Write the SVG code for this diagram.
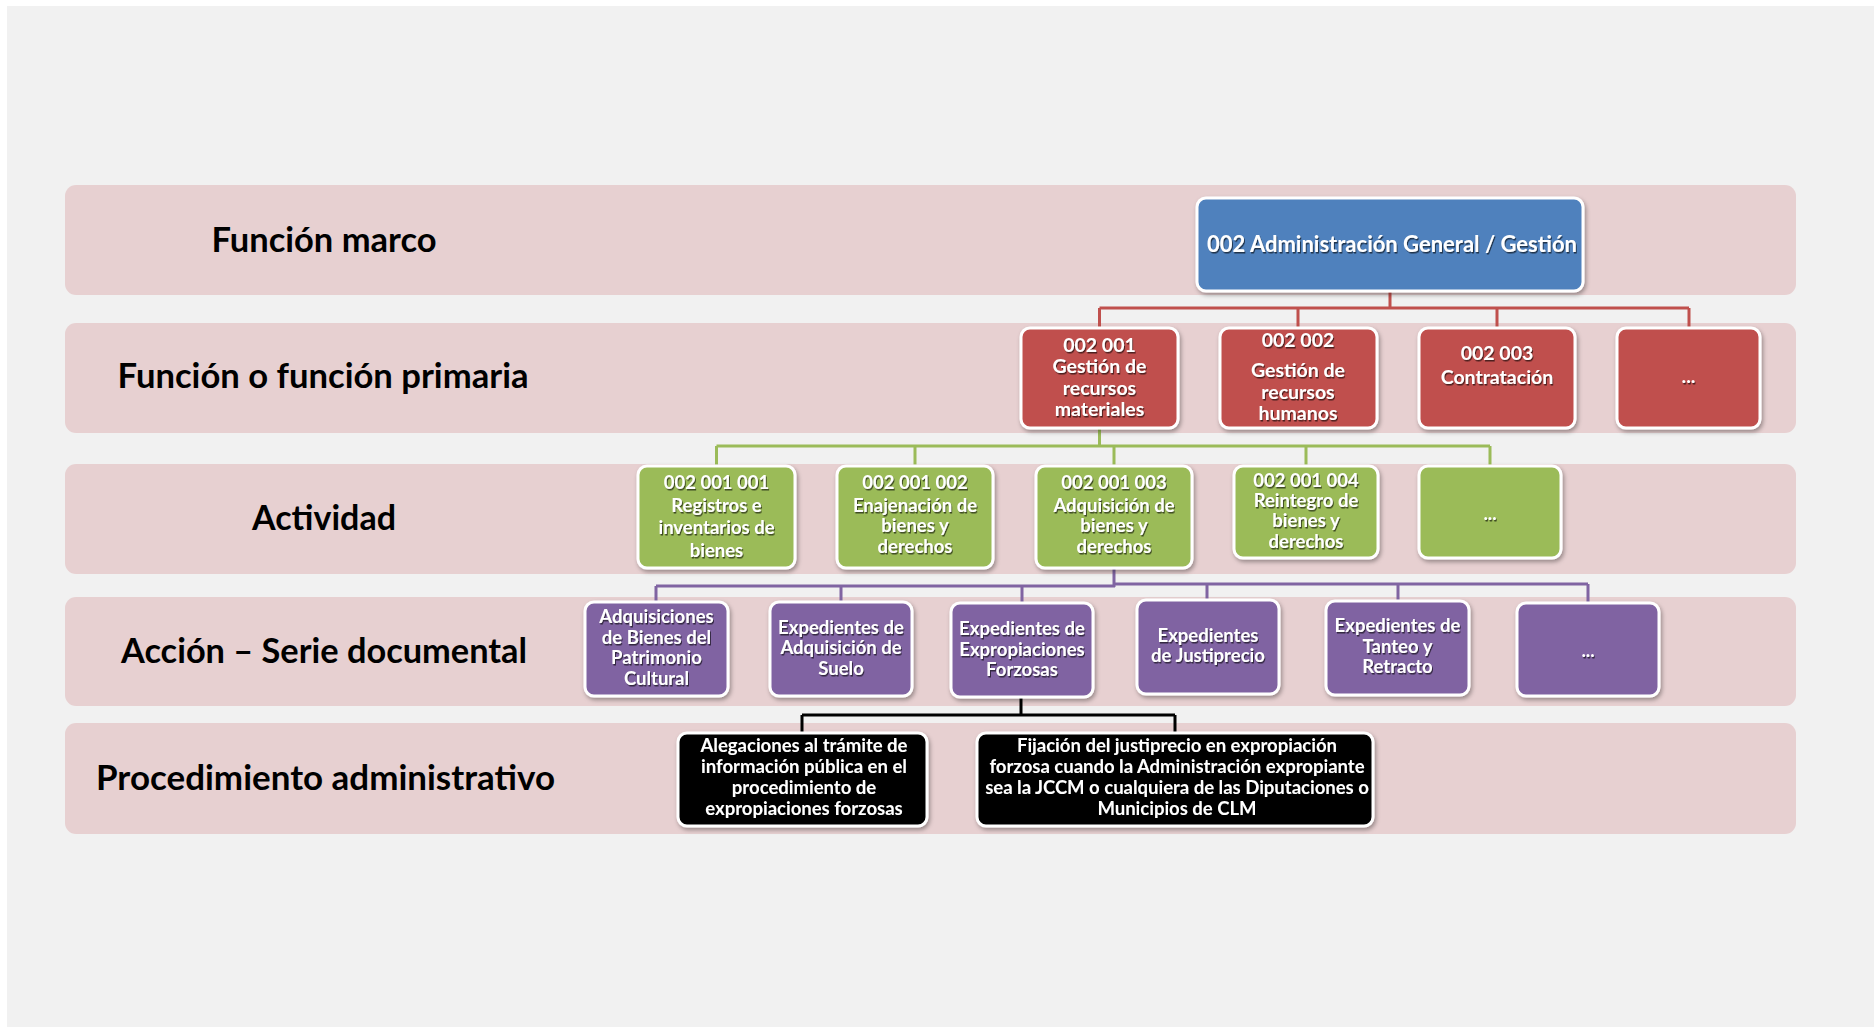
<svg xmlns="http://www.w3.org/2000/svg" width="1874" height="1027" viewBox="0 0 1874 1027">
<defs>
<filter id="boxShadow" x="-10%" y="-10%" width="130%" height="130%">
<feDropShadow dx="1.5" dy="2.5" stdDeviation="2" flood-color="#000" flood-opacity="0.35"/>
</filter>
<filter id="txtShadow" x="-5%" y="-20%" width="110%" height="160%">
<feDropShadow dx="1" dy="1.5" stdDeviation="0.7" flood-color="#000" flood-opacity="0.6"/>
</filter>
<style>
.band{fill:#e7d0d1;}
.lbl{font-family:Lato,"Open Sans",sans-serif;font-weight:bold;font-size:33.5px;fill:#000;text-anchor:middle;}
.node rect{stroke:#fff;stroke-width:3;filter:url(#boxShadow);}
.node text{font-family:Lato,"Open Sans",sans-serif;font-weight:bold;font-size:18.5px;fill:#fff;text-anchor:middle;filter:url(#txtShadow);}
.blue rect{fill:#4f81bd;}
.red rect{fill:#c0504d;}
.green rect{fill:#9bbb59;}
.purple rect{fill:#8064a2;}
.black rect{fill:#000;}
.red text{font-size:19.5px;}
.blue text{font-size:22px;}
.conn path{fill:none;stroke-width:3;}
</style>
</defs>
<rect x="0" y="0" width="1874" height="1027" fill="#ffffff"/>
<rect x="7" y="6" width="1867" height="1021" fill="#f1f1f1"/>

<g id="bands">
<rect class="band" x="65" y="185" width="1731" height="110" rx="11"/>
<rect class="band" x="65" y="323" width="1731" height="110" rx="11"/>
<rect class="band" x="65" y="464" width="1731" height="110" rx="11"/>
<rect class="band" x="65" y="597" width="1731" height="109" rx="11"/>
<rect class="band" x="65" y="723" width="1731" height="111" rx="11"/>
</g>

<g id="labels">
<text class="lbl" x="324" y="251.5" textLength="225" lengthAdjust="spacingAndGlyphs">Función marco</text>
<text class="lbl" x="323" y="388" textLength="411" lengthAdjust="spacingAndGlyphs">Función o función primaria</text>
<text class="lbl" x="324" y="530" textLength="144" lengthAdjust="spacingAndGlyphs">Actividad</text>
<text class="lbl" x="324" y="662.5" textLength="406" lengthAdjust="spacingAndGlyphs">Acción – Serie documental</text>
<text class="lbl" x="325.5" y="790" textLength="459" lengthAdjust="spacingAndGlyphs">Procedimiento administrativo</text>
</g>

<g id="connectors" class="conn">
<path stroke="#c0504d" d="M1390 291V308M1099.5 308H1689M1099.5 308V328M1298 308V328M1497 308V328M1689 308V328"/>
<path stroke="#9bbb59" d="M1099.5 428V446M716.5 446H1490M716.5 446V466M915 446V466M1114 446V466M1306 446V466M1490 446V466"/>
<path stroke="#8064a2" d="M1114 568V587M656 586H1115M1114 584H1588M656 586V602M841 586V602M1022 586V603M1207 584V600M1398 584V601M1588 584V603"/>
<path stroke="#000000" d="M1021 697V715M802 715H1175M802 715V733M1175 715V733"/>
</g>

<g id="n-002" class="node blue">
<rect x="1197" y="198" width="386" height="93" rx="9"/>
<text x="1392" y="252">002 Administración General / Gestión</text>
</g>

<g id="n-002-001" class="node red">
<rect x="1021" y="328" width="157" height="100" rx="9"/>
<text x="1099.5" y="351.5">002 001</text>
<text x="1099.5" y="373">Gestión de</text>
<text x="1099.5" y="394.5">recursos</text>
<text x="1099.5" y="416">materiales</text>
</g>
<g id="n-002-002" class="node red">
<rect x="1220" y="328" width="157" height="100" rx="9"/>
<text x="1298" y="347">002 002</text>
<text x="1298" y="377">Gestión de</text>
<text x="1298" y="398.5">recursos</text>
<text x="1298" y="420">humanos</text>
</g>
<g id="n-002-003" class="node red">
<rect x="1419" y="328" width="156" height="100" rx="9"/>
<text x="1497" y="360">002 003</text>
<text x="1497" y="384">Contratación</text>
</g>
<g id="n-002-more" class="node red">
<rect x="1617" y="328" width="143" height="100" rx="9"/>
<text x="1688.5" y="383">...</text>
</g>

<g id="n-002-001-001" class="node green">
<rect x="638" y="466" width="157" height="102" rx="9"/>
<text x="716.5" y="489">002 001 001</text>
<text x="716.5" y="511.5">Registros e</text>
<text x="716.5" y="534">inventarios de</text>
<text x="716.5" y="557">bienes</text>
</g>
<g id="n-002-001-002" class="node green">
<rect x="837" y="466" width="156" height="102" rx="9"/>
<text x="915" y="489">002 001 002</text>
<text x="915" y="511.5">Enajenación de</text>
<text x="915" y="532">bienes y</text>
<text x="915" y="553">derechos</text>
</g>
<g id="n-002-001-003" class="node green">
<rect x="1036" y="466" width="156" height="102" rx="9"/>
<text x="1114" y="489">002 001 003</text>
<text x="1114" y="511.5">Adquisición de</text>
<text x="1114" y="532">bienes y</text>
<text x="1114" y="553">derechos</text>
</g>
<g id="n-002-001-004" class="node green">
<rect x="1234" y="466" width="144" height="92" rx="9"/>
<text x="1306" y="486.5">002 001 004</text>
<text x="1306" y="507">Reintegro de</text>
<text x="1306" y="527">bienes y</text>
<text x="1306" y="547.5">derechos</text>
</g>
<g id="n-002-001-more" class="node green">
<rect x="1419" y="466" width="142" height="92" rx="9"/>
<text x="1490" y="520">...</text>
</g>

<g id="n-s1" class="node purple">
<rect x="585" y="602" width="143" height="94" rx="9"/>
<text x="656.5" y="623">Adquisiciones</text>
<text x="656.5" y="643.5">de Bienes del</text>
<text x="656.5" y="664">Patrimonio</text>
<text x="656.5" y="685">Cultural</text>
</g>
<g id="n-s2" class="node purple">
<rect x="770" y="602" width="142" height="94" rx="9"/>
<text x="841" y="633.5">Expedientes de</text>
<text x="841" y="654">Adquisición de</text>
<text x="841" y="674.5">Suelo</text>
</g>
<g id="n-s3" class="node purple">
<rect x="951" y="603" width="142" height="94" rx="9"/>
<text x="1022" y="635">Expedientes de</text>
<text x="1022" y="655.5">Expropiaciones</text>
<text x="1022" y="676">Forzosas</text>
</g>
<g id="n-s4" class="node purple">
<rect x="1137" y="600" width="142" height="94" rx="9"/>
<text x="1208" y="642">Expedientes</text>
<text x="1208" y="662">de Justiprecio</text>
</g>
<g id="n-s5" class="node purple">
<rect x="1326" y="601" width="143" height="94" rx="9"/>
<text x="1397.5" y="631.5">Expedientes de</text>
<text x="1397.5" y="652.5">Tanteo y</text>
<text x="1397.5" y="673">Retracto</text>
</g>
<g id="n-s6" class="node purple">
<rect x="1517" y="603" width="142" height="93" rx="9"/>
<text x="1588" y="657">...</text>
</g>

<g id="n-p1" class="node black">
<rect x="678" y="733" width="249" height="93" rx="9"/>
<text x="804" y="752">Alegaciones al trámite de</text>
<text x="804" y="773">información pública en el</text>
<text x="804" y="794">procedimiento de</text>
<text x="804" y="815">expropiaciones forzosas</text>
</g>
<g id="n-p2" class="node black">
<rect x="977" y="733" width="396" height="93" rx="9"/>
<text x="1177" y="752">Fijación del justiprecio en expropiación</text>
<text x="1177" y="773">forzosa cuando la Administración expropiante</text>
<text x="1177" y="794">sea la JCCM o cualquiera de las Diputaciones o</text>
<text x="1177" y="815">Municipios de CLM</text>
</g>
</svg>
